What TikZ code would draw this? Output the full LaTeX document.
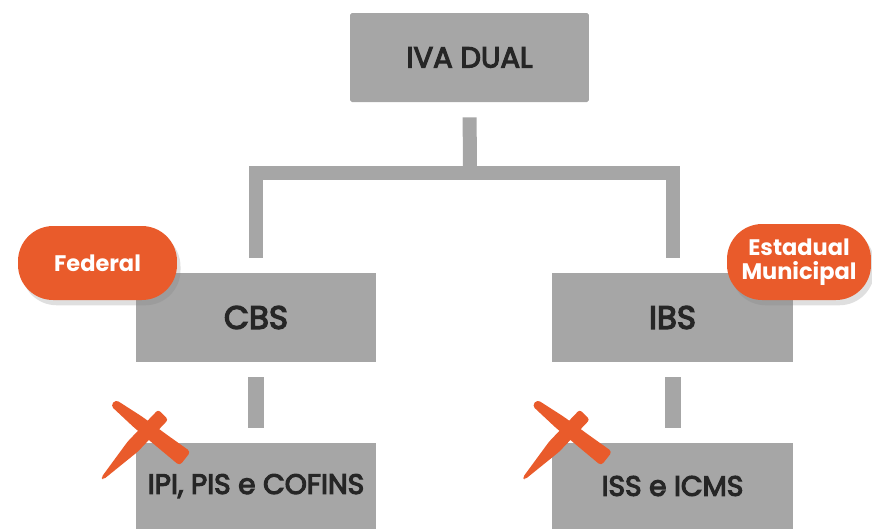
\documentclass[tikz,border=0pt]{standalone}
\usepackage{fontspec}
\setmainfont{Poppins}
\newfontfamily\boxfont{Poppins}[FakeBold=4]
\usetikzlibrary{shadows}
\definecolor{boxgray}{HTML}{A6A6A6}
\definecolor{tagorange}{HTML}{E95B2B}
\tikzset{
  box/.style={fill=boxgray, inner sep=0pt, text=black!85, minimum width=4.82cm},
  tag/.style={fill=tagorange, rounded corners=20pt, text=white, align=center,
              inner sep=0pt, font=\bfseries\fontsize{12.8}{13.4}\selectfont,
              drop shadow={shadow xshift=2pt, shadow yshift=-3pt, opacity=.25}},
  bar/.style={draw=boxgray, line width=0.28cm, shorten <=0.3cm, shorten >=0.3cm},
  cross/.pic={
    \fill[tagorange, rounded corners=2pt] (-19.5,-43) -- (7,-26) -- (33,-7) -- (55.5,9)
      -- (44.5,23) -- (23.5,5.5) -- (-1,-15) -- (-24.5,-37) -- cycle;
    \fill[tagorange, rounded corners=1.5pt] (23,-33) -- (33,-23) -- (2.6,9) -- (-32,37)
      -- (-34,35) -- (-7.6,-1) -- cycle;
  }}

\begin{document}
\begin{tikzpicture}
[x=0.02cm, y=-0.02cm]
\useasboundingbox (0,0) rectangle (872,529);
\node (iva) at (469.5,57.5) [box, minimum width=4.78cm, minimum height=1.78cm, rounded corners=1pt,
  font=\boxfont\fontsize{16.5}{16.5}\selectfont] {IVA DUAL};
\node (cbs) at (256,317.5) [box, minimum height=1.78cm, font=\boxfont\fontsize{18.5}{18.5}\selectfont] {CBS};
\node (ibs) at (672.5,317.5) [box, minimum height=1.78cm, font=\boxfont\fontsize{18.5}{18.5}\selectfont] {IBS};
\node (old1) at (256,486) [box, minimum height=1.72cm, font=\boxfont\fontsize{16}{16}\selectfont] {IPI, PIS e COFINS};
\node (old2) at (672.5,486) [box, minimum height=1.72cm, font=\boxfont\fontsize{16}{16}\selectfont] {ISS e ICMS};
\coordinate (joint) at (470,173);
\draw [bar, shorten >=0pt] (iva.south) -- (joint);
\draw [bar] (cbs.north) |- (joint) -| (ibs.north);
\draw [bar, line width=0.32cm] (cbs.south) -- (old1.north);
\draw [bar, line width=0.32cm] (ibs.south) -- (old2.north);
\node (tag1) at (97.5,263) [tag, minimum width=3.18cm, minimum height=1.48cm] {Federal};
\node (tag2) at (799,262) [tag, minimum width=2.88cm, minimum height=1.52cm] {Estadual\\Municipal};
\pic at (old1.north west) {cross};
\pic at ([xshift=0.1cm]old2.north west) {cross};
\end{tikzpicture}
\end{document}
